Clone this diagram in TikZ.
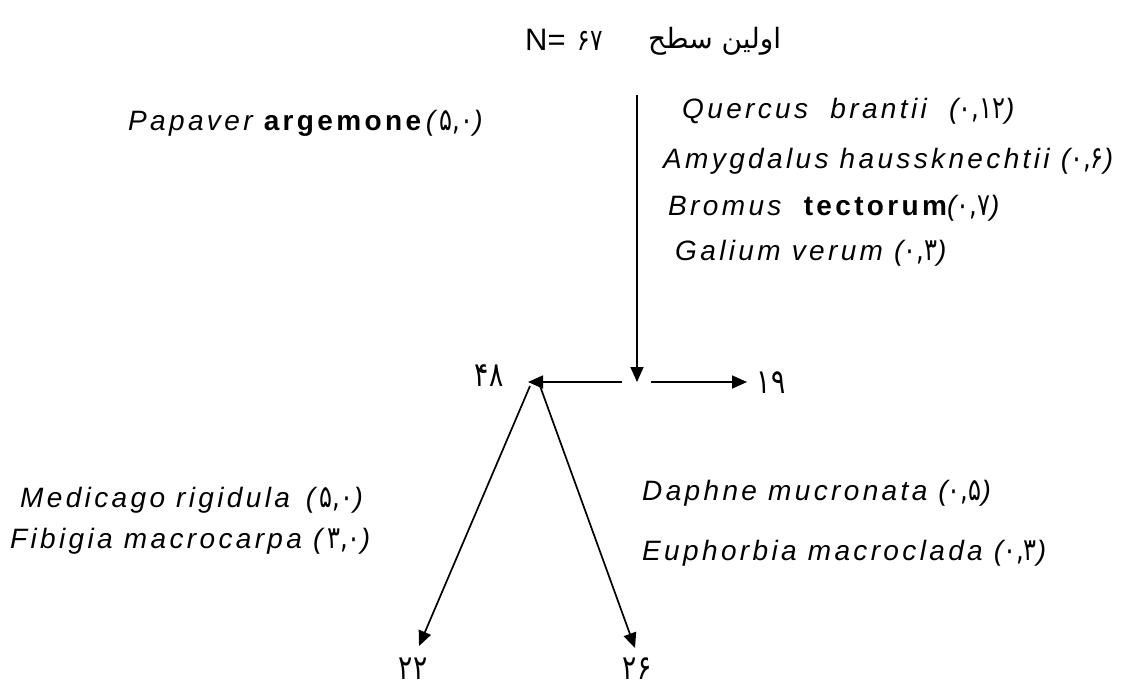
\documentclass[tikz,border=0pt]{standalone}
\usepackage{fontspec}
\usepackage{tikz}
\usetikzlibrary{arrows.meta}
\setmainfont{Liberation Sans}
\newfontfamily\spfont[LetterSpace=12]{Liberation Sans}
\newfontfamily\fa[FakeStretch=0.78]{DejaVu Sans}
\newfontfamily\arabicfont[Script=Arabic]{DejaVu Sans}
\TeXXeTstate=1
\newcommand{\spsize}{\fontsize{28}{32}\selectfont}
\newcommand{\dg}[1]{{\fa\upshape\fontsize{31}{34}\selectfont #1}}

\begin{document}
\begin{tikzpicture}[x=1pt,y=-1pt,
    sp/.style={anchor=base west,inner sep=0pt,font=\spfont\spsize\itshape},
    num/.style={inner sep=0pt,font=\fa\fontsize{34}{38}\selectfont},
    arr/.style={-{Triangle[length=15pt,width=13pt]},line width=1.7pt}]
      \useasboundingbox (0,0) rectangle (1148,691);
      % title
      \node[anchor=base west,inner sep=0pt] (title) at (525,50)
        {\fontsize{31}{34}\selectfont N=\hspace{12pt}{\fa\fontsize{30}{33}\selectfont ۶۷}};
      \node[anchor=base west,inner sep=0pt] (level) at (648,48)
        {\arabicfont\fontsize{28}{32}\selectfont\beginR اولین سطح\endR};
      % species
      \node[sp] (pap) at (128,130) {Papaver {\upshape\bfseries argemone}\,(\,\dg{۵,۰})};
      \node[sp] (que) at (682,118) {Quercus \ brantii \ (\dg{۰,۱۲})};
      \node[sp] (amy) at (663,168) {Amygdalus haussknechtii (\dg{۰,۶})};
      \node[sp] (bro) at (668,215) {Bromus \ {\upshape\bfseries tectorum}(\dg{۰,۷})};
      \node[sp] (gal) at (675,260) {Galium verum (\dg{۰,۳})};
      \node[sp] (med) at (20,507) {Medicago rigidula \,(\,\dg{۵,۰})};
      \node[sp] (fib) at (10,548) {Fibigia macrocarpa (\,\dg{۳,۰})};
      \node[sp] (dap) at (642,500) {Daphne mucronata (\dg{۰,۵})};
      \node[sp] (eup) at (642,560) {Euphorbia macroclada (\dg{۰,۳})};
      % counts
      \node[num] (n48) at (489,376) {۴۸};
      \node[num] (n19) at (771,383) {۱۹};
      \node[num] (n22) at (413,669) {۲۲};
      \node[num] (n26) at (637,669) {۲۶};
      \coordinate (top) at (637,95);
      \coordinate (hub) at (637,382);
      \coordinate (fork) at (528,382);
      \coordinate (end19) at (747,382);
      \coordinate (end22) at (419,646);
      \coordinate (end26) at (635,648);
      \draw[arr] (top) -- (hub);
      \draw[arr] ([xshift=-15pt]hub) -- (fork);
      \draw[arr] ([xshift=14pt]hub) -- (end19);
      \draw[arr] ([shift={(2,4)}]fork) -- (end22);
      \draw[arr] ([shift={(12,4)}]fork) -- (end26);
    \end{tikzpicture}
\end{document}
